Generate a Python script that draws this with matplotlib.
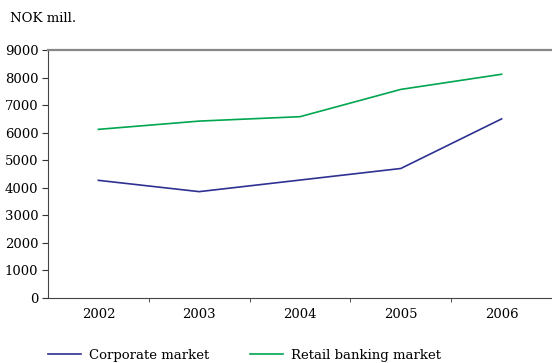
import matplotlib.pyplot as plt

years = ['2002', '2003', '2004', '2005', '2006']
corporate = [4270, 3860, 4280, 4700, 6500]
retail = [6120, 6420, 6580, 7570, 8120]

plt.rcParams['font.family'] = 'DejaVu Serif'

fig = plt.figure(figsize=(5.52, 3.63), dpi=100)
ax = fig.add_axes([48 / 552, 1 - 298 / 363, 1 - 48 / 552, 248 / 363])

x = range(len(years))
l1, = ax.plot(x, corporate, color='#2E3192', lw=1.2)
l2, = ax.plot(x, retail, color='#00A650', lw=1.2)

ax.set_xlim(-0.5, 4.5)
ax.set_ylim(0, 9000)
ax.set_yticks(range(0, 9001, 1000))
ax.set_xticks(list(x))
ax.set_xticklabels(years)
ax.set_xticks([0.5, 1.5, 2.5, 3.5], minor=True)
ax.tick_params(axis='x', which='major', length=0, pad=7, labelsize=9.5)
ax.tick_params(axis='x', which='minor', length=3, color='#333333')
ax.tick_params(axis='y', length=4, pad=3, labelsize=9.5, color='#333333')

ax.spines['right'].set_visible(False)
ax.spines['top'].set_color('#888888')
ax.spines['top'].set_linewidth(1.6)
ax.spines['left'].set_color('#444444')
ax.spines['bottom'].set_color('#444444')

fig.text(10 / 552, 1 - 18 / 363, 'NOK mill.', fontsize=9.5, va='center')

fig.legend([l1, l2], ['Corporate market', 'Retail banking market'],
           loc='center left', bbox_to_anchor=(36 / 552, 1 - 355 / 363),
           ncol=2, frameon=False, fontsize=9.5, handlelength=2.5,
           handletextpad=0.6, columnspacing=3.1)

fig.savefig('out.png', dpi=100)
